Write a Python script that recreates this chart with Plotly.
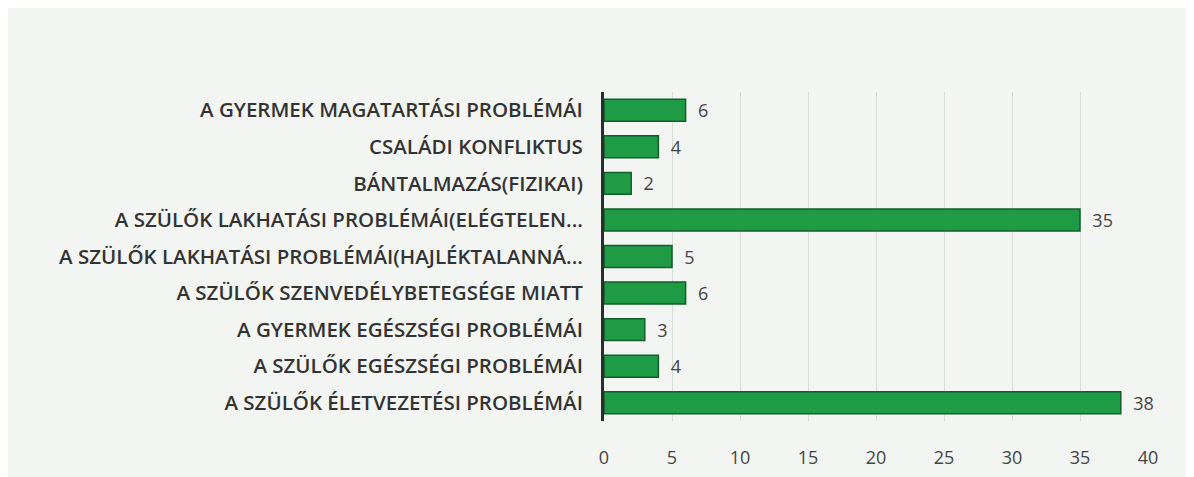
import plotly.graph_objects as go

categories = [
    "A GYERMEK MAGATARTÁSI PROBLÉMÁI",
    "CSALÁDI KONFLIKTUS",
    "BÁNTALMAZÁS(FIZIKAI)",
    "A SZÜLŐK LAKHATÁSI PROBLÉMÁI(ELÉGTELEN...",
    "A SZÜLŐK LAKHATÁSI PROBLÉMÁI(HAJLÉKTALANNÁ...",
    "A SZÜLŐK SZENVEDÉLYBETEGSÉGE MIATT",
    "A GYERMEK EGÉSZSÉGI PROBLÉMÁI",
    "A SZÜLŐK EGÉSZSÉGI PROBLÉMÁI",
    "A SZÜLŐK ÉLETVEZETÉSI PROBLÉMÁI",
]
values = [6, 4, 2, 35, 5, 6, 3, 4, 38]
x_ticks = [0, 5, 10, 15, 20, 25, 30, 35, 40]

fig = go.Figure(
    go.Bar(
        x=values,
        y=categories,
        orientation="h",
        marker=dict(color="#1f9a45", line=dict(color="#145e2a", width=1.5)),
        text=["  " + str(v) for v in values],
        textposition="outside",
        constraintext="none",
        textfont=dict(size=18, color="#444"),
        cliponaxis=False,
        width=0.6,
    )
)

fig.update_layout(
    width=1194,
    height=477,
    margin=dict(l=596, r=54, t=84, b=64),
    paper_bgcolor="#f3f5f2",
    plot_bgcolor="rgba(0,0,0,0)",
    font=dict(family="Open Sans, Lato, sans-serif", size=15, color="#333"),
    showlegend=False,
    bargap=0.4,
)
fig.update_yaxes(
    autorange="reversed",
    showline=True,
    linecolor="#2a2f2c",
    linewidth=3,
    ticks="",
    ticklabelstandoff=14,
    tickfont=dict(size=20.5, color="#333", weight=600),
    showgrid=False,
)
fig.update_xaxes(
    range=[0, 40],
    tickvals=x_ticks,
    ticktext=[str(t) for t in x_ticks],
    showgrid=True,
    gridcolor="#d5ddd8",
    gridwidth=1,
    zeroline=False,
    showline=False,
    ticks="",
    ticklabelstandoff=24,
    tickfont=dict(size=18, color="#444"),
)

fig.write_html("out.html")
